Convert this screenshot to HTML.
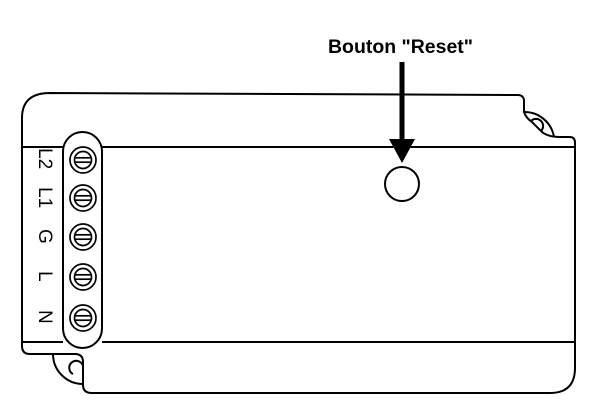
<!DOCTYPE html>
<html><head><style>body{margin:0;background:#fff}svg{display:block}</style></head>
<body>
<svg width="602" height="413" viewBox="0 0 602 413" xmlns="http://www.w3.org/2000/svg">
<g fill="none" stroke="#000" stroke-width="2" stroke-linejoin="round">
<path d="M50 93 L518 95 Q523 95 524 100 L524 112 Q526 118 532 122 L540 130 Q546 137 560 137 L570 137 Q575 137 575 143 L575 368 Q575 393 550 393 L92 393 Q83 393 83 385 L83 362 Q83 354 75 354 L30 354 Q22 354 22 346 L22 118 Q22 93 50 93 Z"/>
<path d="M524 112 A30 30 0 0 1 554 137"/>
<path d="M531 121 A7 7 0 1 1 541 131"/>
<path d="M53 354 A30 30 0 0 0 83 384"/>
<path d="M83 366 A7 7 0 1 0 73 374"/>
<line x1="22" y1="147" x2="63" y2="147"/><line x1="102" y1="147" x2="575" y2="147"/>
<line x1="22" y1="342" x2="63" y2="342"/><line x1="102" y1="342" x2="575" y2="342"/>
<rect x="63" y="132" width="39" height="216" rx="19.5"/>
<circle cx="402" cy="184" r="17"/>
</g>
<g fill="none" stroke="#000" stroke-width="1.7">
<g id="s"><circle cx="83" cy="160" r="13"/><circle cx="83" cy="160" r="8.5"/><line x1="75" y1="157.8" x2="91" y2="157.8"/><line x1="75" y1="162.2" x2="91" y2="162.2"/></g>
<use href="#s" y="38"/><use href="#s" y="77"/><use href="#s" y="117"/><use href="#s" y="158"/>
</g>
<line x1="402" y1="62" x2="402" y2="142" stroke="#000" stroke-width="5"/>
<polygon points="389,139 415,139 402,163" fill="#000"/>
<text x="328" y="53" textLength="145" lengthAdjust="spacingAndGlyphs" font-family="Liberation Sans, sans-serif" font-size="19" font-weight="bold">Bouton "Reset"</text>
<g font-family="Liberation Sans, sans-serif" font-size="19">
<text transform="translate(39,148) rotate(90)">L2</text>
<text transform="translate(39,187) rotate(90)">L1</text>
<text transform="translate(39,229) rotate(90)">G</text>
<text transform="translate(39,271) rotate(90)">L</text>
<text transform="translate(39,310) rotate(90)">N</text>
</g>
</svg>
</body></html>
